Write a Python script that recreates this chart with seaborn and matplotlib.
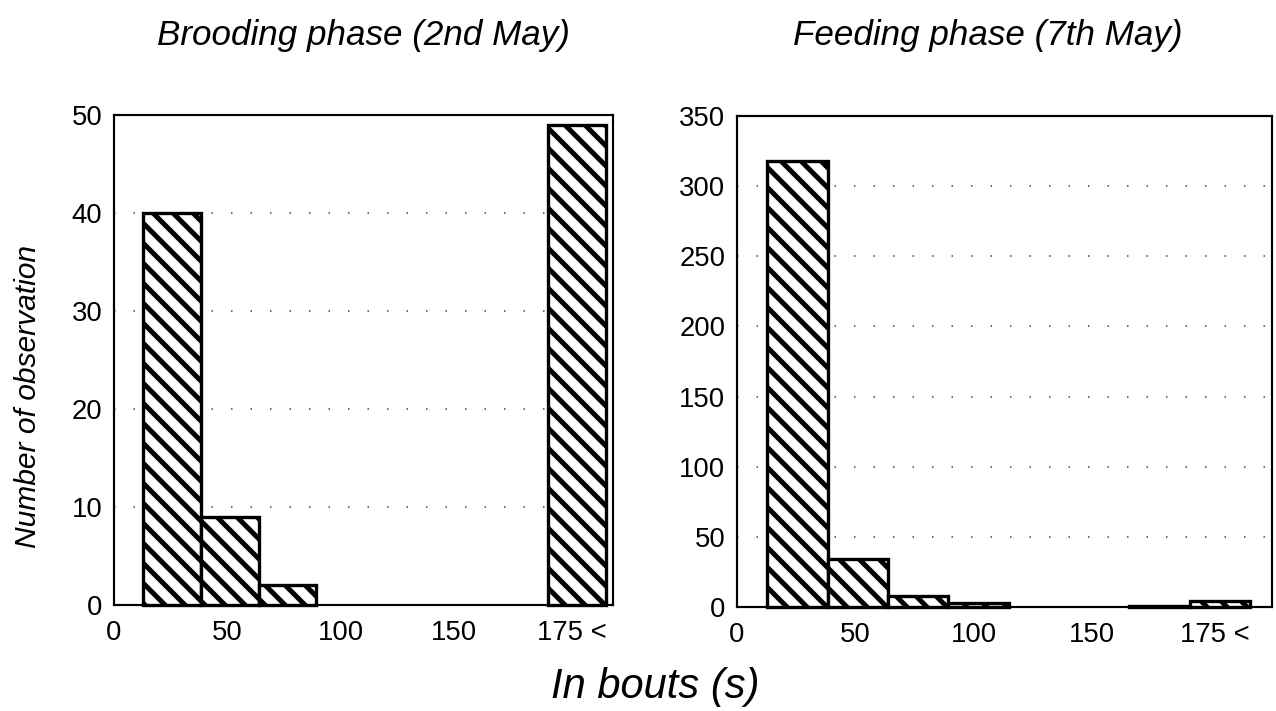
import matplotlib
matplotlib.use("Agg")
import matplotlib.pyplot as plt
import seaborn as sns
import numpy as np

# Bout-length bins (s); the last bin collects every bout longer than 175 s
bin_edges = [12.75, 38.25, 63.75, 89.25, 114.75, 140.25, 165.75, 191.25, 216.75]
bin_centers = [25.5, 51.0, 76.5, 102.0, 127.5, 153.0, 178.5, 204.0]

brooding_counts = [40, 9, 2, 0, 0, 0, 0, 49]
feeding_counts = [318, 34, 8, 3, 0, 0, 1, 4]

x_tick_pos = [0, 50, 100, 150, 202]
x_tick_labels = ["0", "50", "100", "150", "175 <"]

brooding_yticks = [0, 10, 20, 30, 40, 50]
feeding_yticks = [0, 50, 100, 150, 200, 250, 300, 350]

titles = ["Brooding phase (2nd May)", "Feeding phase (7th May)"]
y_label = "Number of observation"
x_label = "In bouts (s)"

sns.set_style("white")
plt.rcParams["font.family"] = ["Liberation Sans", "DejaVu Sans"]
plt.rcParams["text.color"] = "black"
plt.rcParams["hatch.linewidth"] = 3.0
plt.rcParams["hatch.color"] = "black"

W, H, DPI = 1276, 711, 120
fig = plt.figure(figsize=(W / DPI, H / DPI), dpi=DPI)


def px_axes(left, top, right, bottom):
    return fig.add_axes([left / W, 1 - bottom / H, (right - left) / W, (bottom - top) / H])


ax_b = px_axes(114, 115, 613, 605)
ax_f = px_axes(737, 116, 1272, 607)

panels = [
    (ax_b, brooding_counts, brooding_yticks, (0, 220)),
    (ax_f, feeding_counts, feeding_yticks, (3.3, 226)),
]

for ax, counts, yticks, xlim in panels:
    sns.histplot(
        x=bin_centers, weights=counts, bins=bin_edges, ax=ax,
        stat="count", element="bars", fill=True,
        facecolor="white", edgecolor="black", linewidth=2.0,
        hatch="\\\\", alpha=1, zorder=3,
    )
    for p in ax.patches:
        if p.get_height() == 0:
            p.set_visible(False)
        p.set_clip_on(False)

    ax.set_xlim(*xlim)
    ax.set_ylim(yticks[0], yticks[-1])
    ax.set_xticks(x_tick_pos)
    ax.set_xticklabels(x_tick_labels)
    ax.set_yticks(yticks)
    ax.tick_params(axis="both", length=0, labelsize=16.5, colors="black")
    ax.tick_params(axis="x", pad=9)
    ax.tick_params(axis="y", pad=7)
    ax.set_xlabel("")
    ax.set_ylabel("")

    # sparse dotted reference lines behind the bars
    for y in yticks[1:-1]:
        ax.axhline(y, color="0.25", lw=0.9, ls=(0, (1, 12)), zorder=1)

    for side in ["left", "right", "top", "bottom"]:
        ax.spines[side].set_visible(True)
        ax.spines[side].set_color("black")
        ax.spines[side].set_linewidth(1.3)

fig.text(363 / W, 1 - 45 / H, titles[0], ha="center", va="baseline",
         fontsize=21, style="italic", color="black")
fig.text(988 / W, 1 - 45 / H, titles[1], ha="center", va="baseline",
         fontsize=21, style="italic", color="black")
fig.text(28 / W, 1 - 396 / H, y_label, ha="center", va="center",
         rotation=90, fontsize=18, style="italic", color="black")
fig.text(655 / W, 1 - 687 / H, x_label, ha="center", va="center",
         fontsize=25, style="italic", color="black")

fig.savefig("out.png", dpi=DPI, facecolor="white")
